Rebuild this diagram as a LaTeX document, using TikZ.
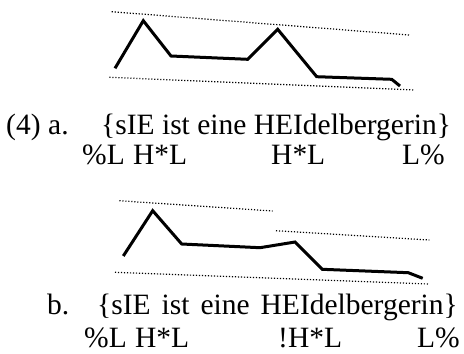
\documentclass[tikz,border=0pt]{standalone}
\usepackage{fontspec}
\setmainfont{Liberation Serif}
\begin{document}
\begin{tikzpicture}[x=1pt,y=-1pt,
  txt/.style={anchor=base west, inner sep=0pt, font=\fontsize{29.5}{34}\selectfont},
  contour/.style={line width=3pt},
  refline/.style={line width=1.2pt, dash pattern=on 1.2pt off 1.8pt}]
\useasboundingbox (0,0) rectangle (464,354);
% (a)
\draw[refline] (111.7,11.7) -- (409.3,35);
\draw[refline] (109.3,77.3) -- (415,90);
\draw[contour] (115,68.3) -- (143.3,20.7) -- (171,56) -- (247.7,59.3) -- (277.7,29.3) -- (316.7,76.7) -- (391.7,79.3) -- (400,86);
\node[txt] (num) at (6,134) {(4)};
\node[txt] (la) at (48,134) {a.};
\node[txt] (sa) at (101,134) {\{sIE ist eine HEIdelbergerin\}};
\node[txt] (a1) at (82,164) {\%L};
\node[txt] (a2) at (133,164) {H*L};
\node[txt] (a3) at (271,164) {H*L};
\node[txt] (a4) at (402,164) {L\%};
% (b)
\draw[refline] (119.3,200.7) -- (272.7,211);
\draw[refline] (276,230.7) -- (429.3,240);
\draw[refline] (115,272.3) -- (428.3,284);
\draw[contour] (123.3,256) -- (152.7,210.7) -- (181.7,244) -- (260,247.7) -- (295,242) -- (322.3,269.3) -- (408.3,272.7) -- (422.7,278.3);
\node[txt] (lb) at (47,314) {b.};
\node[txt] (sb) at (97,314) {\{sIE\hskip 11pt ist\hskip 11pt eine\hskip 11pt HEIdelbergerin\}};
\node[txt] (b1) at (84,347) {\%L};
\node[txt] (b2) at (135,347) {H*L};
\node[txt] (b3) at (278,347) {!H*L};
\node[txt] (b4) at (417,347) {L\%};
\end{tikzpicture}
\end{document}
